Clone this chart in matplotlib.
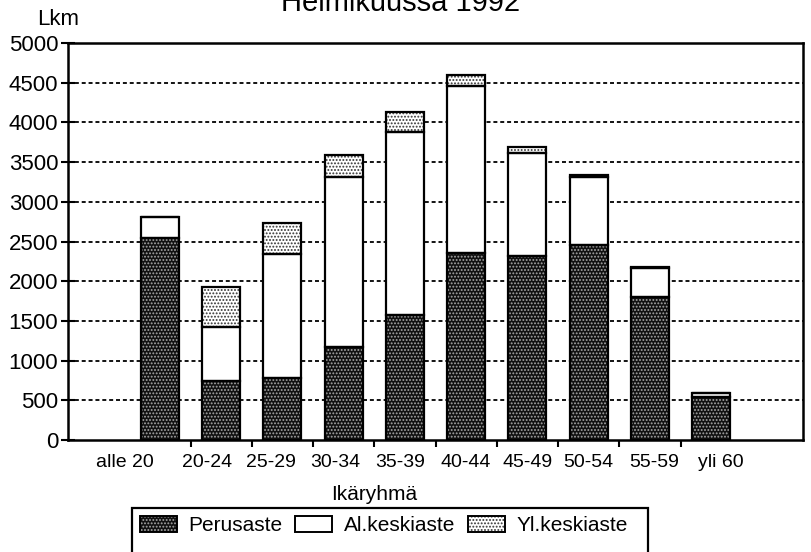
import matplotlib
matplotlib.use("Agg")
import matplotlib.pyplot as plt
from matplotlib.patches import Patch, Rectangle
import numpy as np

plt.rcParams['font.family'] = ['Liberation Sans', 'DejaVu Sans']
plt.rcParams['hatch.linewidth'] = 0.9

categories = ["alle 20", "20-24", "25-29", "30-34", "35-39", "40-44", "45-49", "50-54", "55-59", "yli 60"]
perusaste = [2540, 747, 777, 1167, 1574, 2359, 2317, 2456, 1805, 546]
al_keskiaste = [270, 680, 1566, 2141, 2309, 2099, 1301, 852, 358, 42]
yl_keskiaste = [0, 504, 394, 280, 252, 139, 76, 30, 20, 0]
series_names = ["Perusaste", "Al.keskiaste", "Yl.keskiaste"]
yticks = [0, 500, 1000, 1500, 2000, 2500, 3000, 3500, 4000, 4500, 5000]
title = "Helmikuussa 1992"
ylabel = "Lkm"
xlabel = "Ikäryhmä"
label_offsets = [-0.57, -0.23, -0.18, -0.13, -0.07, 0.0, 0.0, 0.0, 0.07, 0.15]

W, H = 811, 552
fig = plt.figure(figsize=(W / 100, H / 100), dpi=100)
ax = fig.add_axes([68 / W, 1 - 440 / H, (803 - 68) / W, (440 - 43) / H])

x = np.arange(len(categories))
bw = 0.62
p = np.array(perusaste, float)
a = np.array(al_keskiaste, float)
y = np.array(yl_keskiaste, float)

styles = [
    dict(face='#111111', hatch='.....', hcol='#a8a8a8'),
    dict(face='white', hatch=None, hcol='white'),
    dict(face='white', hatch='.....', hcol='#333333'),
]
bottoms = [np.zeros_like(p), p, p + a]
vals = [p, a, y]
for v, b, st in zip(vals, bottoms, styles):
    ax.bar(x, v, bw, bottom=b, color=st['face'], hatch=st['hatch'],
           edgecolor=st['hcol'], linewidth=0, zorder=2)
    ax.bar(x, v, bw, bottom=b, fill=False, edgecolor='black', linewidth=1.6, zorder=3)

ax.set_xlim(-1.5, 10.5)
ax.set_ylim(0, 5000)
ax.set_yticks(yticks)
ax.set_yticklabels([str(t) for t in yticks], fontsize=16)
for t in yticks[1:-1]:
    ax.axhline(t, color='black', linewidth=1.3, linestyle=(0, (2.2, 1.6)), zorder=1)

ax.set_xticks(x[:-1] + 0.5)
ax.set_xticklabels([])
ax.tick_params(axis='x', direction='out', length=5, width=1.5)
ax.tick_params(axis='y', direction='inout', length=10, width=1.5, pad=2)
for s in ax.spines.values():
    s.set_linewidth(1.8)

for xi, lab, off in zip(x, categories, label_offsets):
    ax.text(xi + off, -180, lab, ha='center', va='top', fontsize=14)

fig.text(401 / W, 1 - 11 / H, title, ha='center', va='baseline', fontsize=21)
fig.text(37 / W, 1 - 9 / H, ylabel, ha='left', va='top', fontsize=16)
fig.text(374 / W, 1 - 494 / H, xlabel, ha='center', va='center', fontsize=15)

# legend frame (cut at the bottom of the image)
fig.patches.append(Rectangle((132 / W, -0.05), (648 - 132) / W, (1 - 508 / H) + 0.05,
                             transform=fig.transFigure, fill=False,
                             edgecolor='black', linewidth=1.6))
handles = []
for st in styles:
    h1 = Patch(facecolor=st['face'], hatch=st['hatch'], edgecolor=st['hcol'], linewidth=0)
    h2 = Patch(fill=False, edgecolor='black', linewidth=1.4)
    handles.append((h1, h2))
leg = fig.legend(handles, series_names, loc='upper left',
                 bbox_to_anchor=(138 / W, 1 - 514 / H), ncol=3, frameon=False,
                 fontsize=15, handlelength=1.78, handleheight=0.8,
                 handletextpad=0.55, columnspacing=0.6, borderpad=0.1,
                 borderaxespad=0)

fig.savefig("out.png", dpi=100)
